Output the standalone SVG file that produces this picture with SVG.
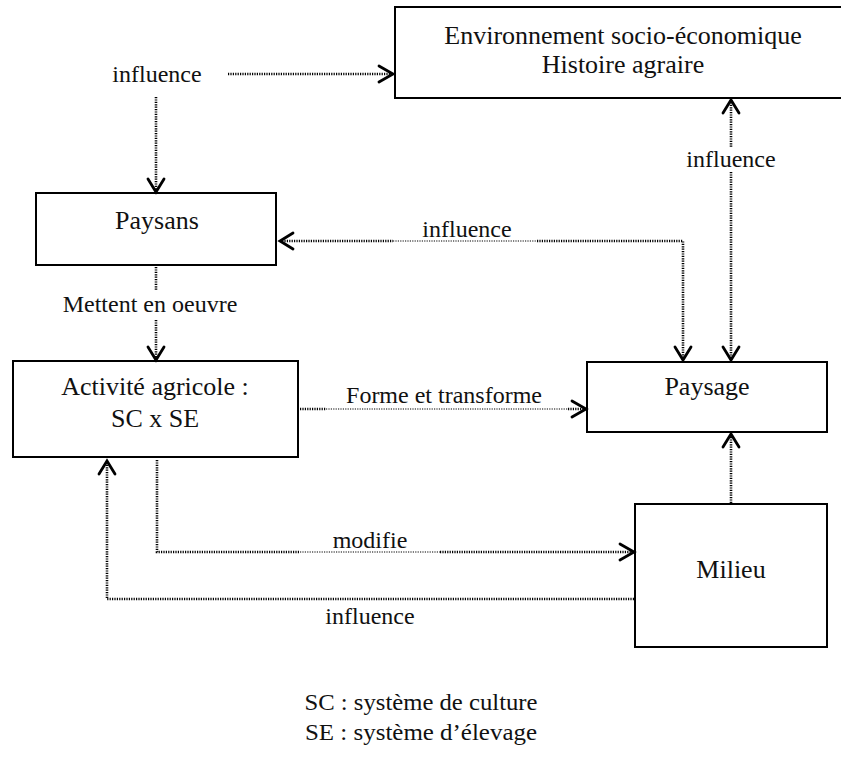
<svg xmlns="http://www.w3.org/2000/svg" width="841" height="762" viewBox="0 0 841 762">
<style>
.box{fill:#fff;stroke:#000;stroke-width:2}
.t{font-family:"Liberation Serif","Times New Roman",serif;font-size:24px;fill:#111;text-anchor:middle}
.n{font-size:26px}
.d{fill:none;stroke:#000;stroke-width:2.6;stroke-dasharray:1.2 1.2}
.dt{fill:none;stroke:#000;stroke-width:1.2;stroke-dasharray:1.2 1.2}
.ah{fill:none;stroke:#000;stroke-width:2.8;stroke-linecap:round;stroke-linejoin:miter}
</style>
<rect width="841" height="762" fill="#fff"/>
<g id="env"><rect class="box" x="395" y="7" width="460" height="91"/>
<text class="t n" x="623" y="44">Environnement socio-économique</text>
<text class="t n" x="623" y="73">Histoire agraire</text></g>
<g id="paysans"><rect class="box" x="36" y="193" width="240" height="72"/>
<text class="t n" x="157" y="229">Paysans</text></g>
<g id="activite"><rect class="box" x="13" y="361" width="285" height="96"/>
<text class="t n" x="155" y="395">Activité agricole :</text>
<text class="t n" x="155" y="427">SC x SE</text></g>
<g id="paysage"><rect class="box" x="587" y="362" width="240" height="70"/>
<text class="t n" x="707" y="395">Paysage</text></g>
<g id="milieu"><rect class="box" x="635" y="504" width="192" height="143"/>
<text class="t n" x="731" y="578">Milieu</text></g>
<g id="connectors">
<text class="t" x="157" y="82">influence</text>
<path class="d" d="M228 74H391"/>
<path class="ah" d="M379 66L393 74L379 82"/>
<path class="d" d="M156 97V191"/>
<path class="ah" d="M148 179L156 192L164 179"/>
<path class="d" d="M156 267V290"/>
<text class="t" x="150" y="312">Mettent en oeuvre</text>
<path class="d" d="M156 320V359"/>
<path class="ah" d="M148 347L156 360L164 347"/>
<path class="d" d="M282 241H393M537 241H683V360"/>
<path class="dt" d="M393 241H537"/>
<path class="ah" d="M293 233L280 241L293 249"/>
<path class="ah" d="M675 347L683 360L691 347"/>
<text class="t" x="467" y="237">influence</text>
<path class="d" d="M731 100V148M731 172V360"/>
<path class="ah" d="M723 113L731 100L739 113"/>
<path class="ah" d="M723 347L731 360L739 347"/>
<text class="t" x="731" y="167">influence</text>
<path class="d" d="M300 409H326M568 409H584"/>
<path class="dt" d="M326 409H568"/>
<path class="ah" d="M572 401L586 409L572 417"/>
<text class="t" x="444" y="403">Forme et transforme</text>
<path class="d" d="M731 503V435"/>
<path class="ah" d="M723 447L731 434L739 447"/>
<path class="d" d="M157 460V552H300M440 552H632"/>
<path class="dt" d="M300 552H440"/>
<path class="ah" d="M620 544L634 552L620 560"/>
<text class="t" x="370" y="548">modifie</text>
<path class="d" d="M634 599H107V462"/>
<path class="ah" d="M99 474L107 461L115 474"/>
<text class="t" x="370" y="624">influence</text>
</g>
<text class="t" x="421" y="710" textLength="233" lengthAdjust="spacingAndGlyphs">SC : système de culture</text>
<text class="t" x="421" y="740" textLength="232" lengthAdjust="spacingAndGlyphs">SE : système d’élevage</text>
</svg>
